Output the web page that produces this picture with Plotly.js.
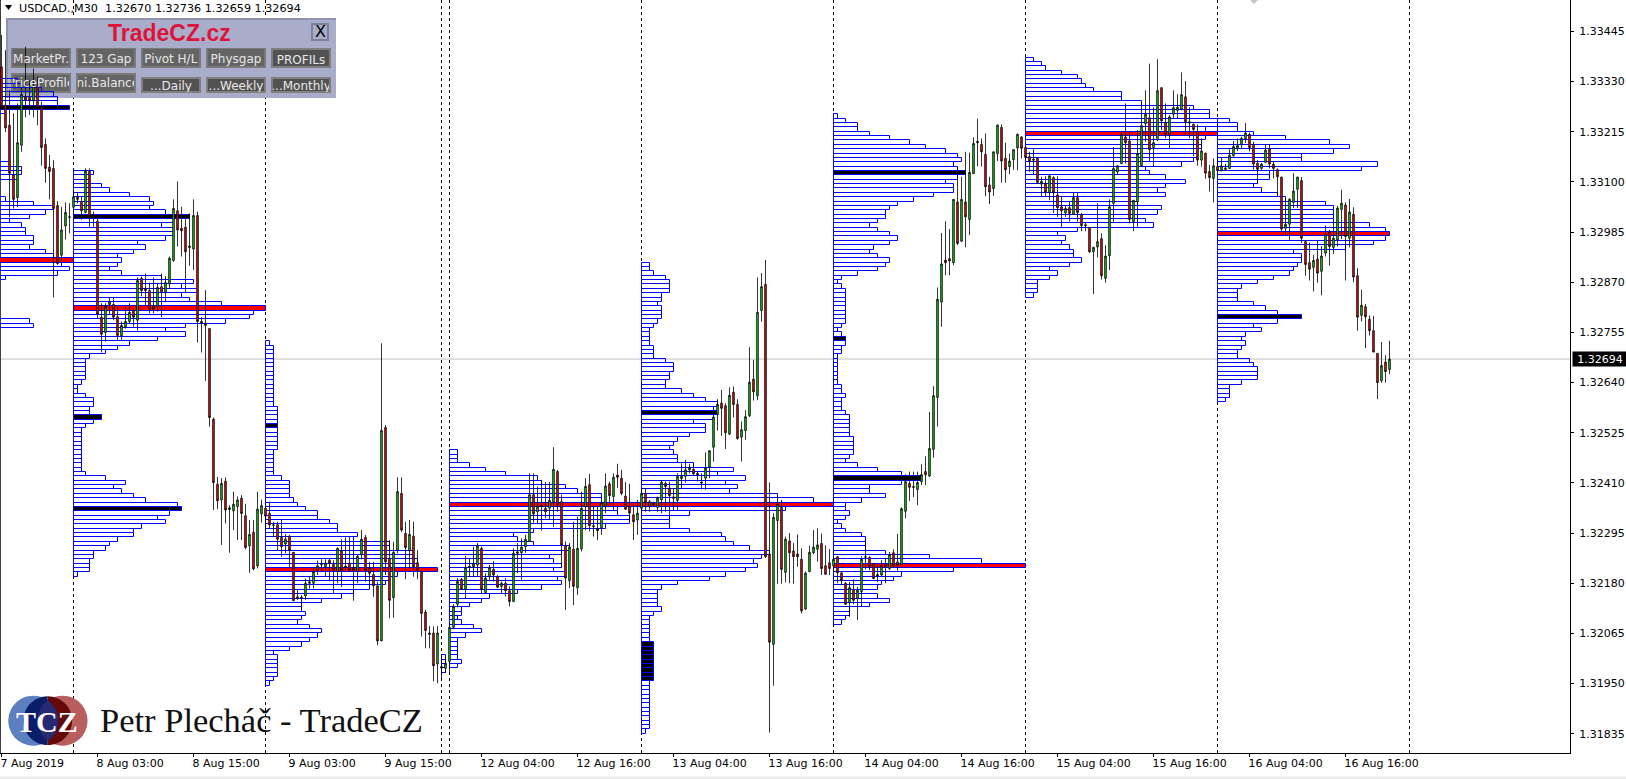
<!DOCTYPE html>
<html><head><meta charset="utf-8">
<script src="https://cdn.plot.ly/plotly-3.0.1.min.js"></script>
<style>html,body{margin:0;padding:0;background:#fff}#chart{width:1626px;height:779px}</style>
</head><body><div id="chart"></div>
<script>
// Prices are stored in 1/100000 units (1.32694 = 132694)
const priceUnit = 100000;
const rowStep = 10;

const open = [
133364,133276,133230,133116,133064,133184,133295,133293,133286,133320,
133271,133186,133134,133131,133046,132932,132999,133020,133042,133065,
133055,133030,133124,133020,133010,132790,132755,132819,132819,132791,
132747,132768,132780,132806,132783,132879,132856,132851,132816,132814,
132860,132848,132866,132920,133034,132994,132996,132953,132946,133023,
132780,132776,132764,132556,132407,132371,132414,132349,132346,132356,
132375,132335,132266,132297,132220,132339,132352,132340,132314,132314,
132285,132270,132288,132251,132149,132148,132151,132180,132180,132210,
132222,132218,132233,132223,132207,132255,132219,132226,132216,132207,
132246,132285,132214,132200,132174,132048,132537,132237,132147,132256,
132386,132294,132255,132288,132227,132207,132114,132066,132066,131995,
131989,131985,132001,132079,132132,132189,132166,132219,132218,132222,
132260,132159,132195,132212,132195,132173,132180,132163,132138,132252,
132250,132264,132276,132383,132344,132359,132352,132352,132367,132436,
132367,132266,132186,132258,132170,132259,132356,132406,132312,132306,
132306,132357,132408,132379,132428,132421,132380,132356,132337,132325,
132352,132386,132357,132363,132354,132371,132409,132398,132378,132370,
132420,132425,132440,132441,132432,132412,132421,132446,132492,132567,
132593,132587,132522,132618,132590,132515,132530,132564,132648,132610,
132805,132865,132247,132040,132324,132354,132205,132277,132254,132247,
132235,132121,132207,132250,132258,132271,132220,132227,132220,132241,
132204,132180,132136,132164,132145,132161,132241,132239,132225,132200,
132199,132223,132214,132250,132229,132223,132345,132409,132402,132395,
132413,132436,132426,132487,132606,132825,132921,132924,132915,133054,
132964,133054,133014,133119,133193,133186,133163,133093,133085,133165,
133225,133154,133135,133151,133178,133203,133179,133158,133152,133154,
133095,133096,133075,133110,133070,133043,133029,133041,133026,133064,
133025,133002,132996,132940,132951,132970,132879,132931,133051,133123,
133142,133203,133194,133009,133054,133137,133234,133247,133179,133196,
133316,133236,133209,133255,133264,133267,133295,133238,133232,133215,
133150,133166,133124,133108,133135,133126,133132,133131,133160,133176,
133185,133199,133209,133186,133143,133131,133145,133177,133141,133128,
133111,132994,133003,133053,133083,133103,132963,132915,132904,132923,
132895,132937,132985,132950,132967,133037,133047,132971,133026,132885,
132794,132814,132785,132759,132707,132644,132687,132670];

const high = [
133437,133402,133311,133257,133280,133326,133410,133334,133360,133341,
133284,133200,133162,133150,133056,133043,133053,133051,133078,133075,
133066,133131,133131,133032,133017,132822,132822,132835,132835,132814,
132780,132814,132822,132810,132881,132883,132890,132869,132881,132868,
132890,132884,132929,133060,133101,133043,133020,133028,133060,133032,
132790,132852,132764,132560,132424,132421,132423,132359,132390,132379,
132382,132362,132325,132325,132390,132372,132352,132367,132321,132321,
132325,132293,132291,132251,132165,132153,132191,132195,132214,132232,
132235,132235,132237,132233,132262,132281,132285,132287,132275,132245,
132302,132291,132229,132229,132184,132730,132543,132279,132275,132423,
132423,132321,132325,132321,132256,132210,132119,132082,132081,132082,
132016,132012,132082,132132,132192,132192,132243,132237,132264,132272,
132264,132203,132222,132231,132199,132184,132192,132173,132260,132272,
132283,132291,132432,132432,132402,132417,132412,132412,132492,132440,
132383,132276,132272,132321,132333,132390,132421,132431,132356,132356,
132367,132432,132413,132432,132454,132440,132412,132408,132360,132371,
132398,132398,132371,132367,132379,132417,132413,132413,132398,132432,
132455,132463,132454,132454,132436,132432,132480,132484,132562,132602,
132623,132593,132629,132631,132602,132551,132577,132721,132692,132881,
132891,132921,132411,132341,132379,132371,132287,132295,132272,132292,
132260,132207,132266,132302,132306,132294,132267,132258,132241,132242,
132206,132183,132183,132189,132172,132242,132280,132242,132225,132222,
132233,132237,132252,132258,132293,132354,132430,132436,132436,132436,
132453,132471,132573,132632,132858,132983,133010,132992,133060,133135,
133112,133169,133167,133202,133245,133200,133211,133112,133169,133232,
133232,133190,133165,133174,133211,133205,133179,133169,133177,133156,
133112,133113,133115,133113,133113,133067,133047,133054,133076,133074,
133029,133006,132996,132951,133051,132982,132955,133060,133180,133138,
133213,133280,133215,133058,133219,133284,133310,133371,133271,133381,
133316,133280,133253,133310,133301,133351,133331,133271,133234,133232,
133200,133167,133139,133154,133154,133157,133141,133177,133194,133200,
133204,133235,133213,133192,133150,133143,133187,133187,133147,133131,
133112,133066,133063,133120,133112,133111,132967,132961,132933,132965,
132953,133000,132990,133009,133045,133082,133053,133061,133042,132902,
132853,132820,132794,132793,132707,132733,132703,132736];

const low = [
133265,133214,133019,133039,133042,133169,133248,133253,133248,133230,
133137,133098,133060,132835,132910,132919,132968,132982,133028,133051,
133013,133028,132997,132997,132787,132709,132734,132795,132783,132738,
132738,132764,132776,132768,132759,132838,132818,132799,132799,132803,
132790,132825,132856,132917,132952,132929,132845,132908,132898,132732,
132709,132644,132539,132348,132350,132268,132317,132250,132302,132279,
132279,132258,132204,132210,132214,132319,132302,132306,132287,132256,
132241,132249,132218,132140,132142,132119,132142,132168,132168,132199,
132210,132195,132187,132157,132180,132172,132210,132207,132140,132180,
132235,132184,132176,132149,132038,132048,132199,132100,132101,132249,
132297,132189,132214,132195,132189,132058,132031,132031,131955,131951,
131959,131975,131975,132076,132125,132165,132146,132195,132194,132195,
132157,132157,132188,132184,132169,132157,132150,132127,132138,132203,
132188,132250,132276,132319,132318,132301,132329,132325,132310,132344,
132218,132119,132169,132130,132153,132253,132302,132299,132287,132279,
132291,132341,132360,132348,132399,132382,132348,132325,132279,132291,
132341,132344,132344,132356,132344,132341,132344,132337,132348,132348,
132398,132411,132432,132426,132413,132395,132394,132421,132459,132530,
132518,132488,132520,132560,132509,132459,132509,132561,132599,132600,
132780,132238,131838,131945,132179,132179,132182,132180,132179,132218,
132111,132119,132205,132247,132230,132199,132199,132199,132206,132180,
132176,132130,132103,132132,132096,132126,132212,132210,132189,132183,
132196,132180,132210,132218,132209,132222,132329,132369,132378,132359,
132405,132405,132424,132468,132539,132768,132886,132886,132909,132955,
132963,132950,132978,133118,133136,133135,133067,133049,133068,133148,
133098,133098,133118,133128,133127,133154,133150,133123,133118,133096,
133067,133067,133058,133029,133020,132995,133020,133009,133025,133009,
132987,132987,132937,132843,132927,132876,132869,132898,133009,133118,
133141,133142,133005,132987,132997,133135,133192,133148,133135,133194,
133219,133200,133178,133245,133245,133264,133207,133200,133159,133137,
133135,133107,133078,133053,133124,133124,133126,133130,133158,133171,
133175,133189,133170,133128,133095,133128,133143,133131,133108,133066,
132986,132979,132967,133040,133040,132960,132885,132874,132849,132869,
132840,132929,132908,132935,132952,132969,132874,132950,132870,132759,
132780,132719,132748,132710,132602,132640,132640,132659];

const close = [
133273,133224,133120,133060,133190,133301,133288,133286,133320,133271,
133179,133131,133124,133039,132913,132990,133030,133019,133066,133060,
133034,133125,133020,133019,132797,132751,132814,132825,132790,132748,
132771,132780,132801,132790,132874,132851,132851,132809,132809,132858,
132848,132869,132925,133039,132990,132988,132940,132950,133023,132780,
132777,132771,132560,132411,132369,132409,132348,132353,132361,132371,
132340,132262,132292,132213,132350,132358,132334,132314,132313,132281,
132264,132281,132256,132140,132145,132146,132180,132183,132207,132220,
132223,132226,132226,132210,132260,132210,132217,132210,132210,132242,
132281,132209,132203,132174,132048,132530,132229,132141,132251,132390,
132302,132262,132292,132218,132209,132111,132072,132063,131991,132066,
131986,131997,132079,132127,132184,132166,132216,132217,132224,132266,
132166,132192,132216,132199,132171,132180,132163,132138,132249,132249,
132263,132281,132383,132339,132357,132356,132344,132370,132441,132360,
132268,132192,132263,132173,132260,132352,132402,132312,132310,132301,
132365,132403,132381,132423,132423,132386,132350,132341,132321,132341,
132386,132365,132367,132360,132375,132412,132402,132381,132375,132425,
132425,132440,132445,132431,132429,132410,132444,132484,132561,132590,
132581,132525,132611,132590,132512,132532,132562,132641,132619,132801,
132860,132241,132045,132331,132361,132212,132281,132250,132241,132241,
132117,132203,132251,132263,132268,132214,132201,132214,132235,132204,
132186,132132,132170,132141,132164,132235,132240,132218,132191,132197,
132220,132220,132246,132220,132222,132351,132413,132400,132400,132411,
132429,132429,132489,132610,132831,132912,132915,132919,133060,132959,
133060,133020,133122,133188,133190,133169,133089,133077,133169,133230,
133148,133128,133148,133174,133209,133177,133156,133146,133150,133099,
133101,133077,133114,133075,133041,133034,133039,133028,133064,133030,
133000,133000,132940,132950,132963,132885,132930,133043,133131,133137,
133209,133190,133014,133058,133165,133229,133255,133174,133190,133309,
133240,133209,133249,133270,133271,133300,133238,133235,133220,133150,
133171,133120,133110,133137,133126,133137,133129,133161,133181,133183,
133200,133212,133179,133141,133129,133141,133173,133141,133131,133112,
132992,133003,133060,133079,133111,132971,132911,132900,132920,132891,
132930,132980,132952,132971,133040,133051,132975,133031,132882,132790,
132817,132791,132759,132710,132640,132679,132665,132694];

// Session profiles: bar-count width per price row, top row first, one row every 10 units
const profile0 = [34,35,40,43,44,44,47,31,0,0,0,0,0,0,0,0,0,0,0,32,35,35,34,0,0,0,0,31,38,43,41,37,32,35,36,36,38,38,37,41,43,48,45,47,44,31,0,0,0,0,0,0,0,0,0,37,38];
const profile1 = [5,3,4,7,9,14,19,20,19,23,29,25,22,25,25,23,16,18,15,11,12,11,9,12,22,30,27,31,27,29,37,48,45,44,38,28,23,28,21,14,11,8,4,3,3,3,3,3,2,1,1,3,5,5,4,4,7,5,3,2,2,2,2,2,2,2,2,2,2,3,8,13,10,12,15,18,26,27,24,21,23,17,15,15,11,9,8,5,5,4,4,4,1];
const profile2 = [1,2,2,2,2,2,2,2,2,2,2,2,2,2,2,3,3,3,3,3,3,3,3,3,3,2,2,2,2,2,2,4,6,6,6,6,7,8,10,13,13,16,18,18,23,22,31,31,37,37,38,38,43,33,31,30,26,22,19,14,9,9,10,9,8,11,14,13,11,9,6,2,3,3,3,3,3,2,1];
const profileSun = [1,1,1,1];
const profile3 = [2,2,2,5,9,14,22,23,29,32,38,38,48,42,42,45,45,39,21,16,17,21,30,28,25,26,28,26,29,27,28,23,17,10,8,5,3,3,2,3,6,8,4,2,2,2,2,2,3,2];
const profile4 = [2,2,3,6,7,7,7,5,5,4,5,5,5,4,3,2,2,2,2,3,3,3,6,8,8,7,7,6,6,10,13,16,19,18,19,18,13,16,16,12,9,8,7,8,9,9,13,23,19,26,21,24,22,34,43,48,36,12,7,7,7,12,20,21,23,27,32,30,28,29,26,21,17,9,5,4,4,4,4,5,3,2,2,2,2,2,2,3,3,3,3,3,3,3,3,3,2,2,2,2,2,2,2,2,2,2,2,1];
const profile5 = [1,3,6,6,9,14,19,23,28,31,32,30,31,33,31,28,30,30,25,20,16,14,13,13,11,9,11,14,16,14,10,9,11,14,13,11,6,2,1,2,3,3,3,3,3,3,3,3,2,1,2,3,3,2,2,1,1,1,1,1,1,1,2,2,3,2,2,2,3,4,4,4,4,4,5,5,5,5,4,3,6,11,17,22,17,9,9,13,7,3,3,4,3,1,2,3,7,8,8,8,13,24,37,48,30,17,15,12,11,7,11,14,9,4,4,3,2];
const profile6 = [2,4,5,9,13,14,15,17,24,24,29,42,46,46,48,48,45,48,45,44,44,43,43,42,39,30,31,35,40,35,33,35,28,28,34,33,28,30,32,13,8,10,9,11,12,12,14,11,6,8,6,3,3,3,2];
const profile7 = [3,5,5,9,17,28,33,29,21,21,40,36,13,13,10,9,11,15,17,27,29,29,29,29,38,42,43,42,39,32,19,21,21,20,19,18,14,10,6,5,5,5,9,12,15,21,15,9,11,7,6,7,6,5,5,8,9,10,10,10,6,3,3,3,2];

const profileCounts = [profile0,profile1,profile2,profileSun,profile3,profile4,profile5,profile6,profile7];
const profileStart  = [-30,18,66,110,112,160,208,256,304];
const profileTop    = [133330,133120,132730,132010,132480,132910,133250,133380,133240];
const pocPrices     = [132920,132810,132210,null,132360,132360,132220,133210,132980];
const darkPrices    = [[133270],[133020,132560,132350],[132540],[],[],
  [132570,132040,132030,132020,132010,132000,131990,131980,131970,131960],
  [133120,132740,132420],[],[132790]];

const sessionBreaks = [18,66,110,112,160,208,256,304,352];
const timeTickBars = [0,24,48,72,96,120,144,168,192,216,240,264,288,312,336];
const timeTickText = ['7 Aug 2019','8 Aug 03:00','8 Aug 15:00','9 Aug 03:00','9 Aug 15:00','12 Aug 04:00','12 Aug 16:00','13 Aug 04:00','13 Aug 16:00','14 Aug 04:00','14 Aug 16:00','15 Aug 04:00','15 Aug 16:00','16 Aug 04:00','16 Aug 16:00'];
const priceTicks = [1.33445,1.33330,1.33215,1.33100,1.32985,1.32870,1.32755,1.32640,1.32525,1.32410,1.32295,1.32180,1.32065,1.31950,1.31835];
const lastPrice = 1.32694;
const buttonRow1 = ['MarketPr.','123 Gap','Pivot H/L','Physgap','PROFILs'];
const buttonRow2 = ['PriceProfile','Ini.Balance','...Daily','...Weekly','...Monthly'];

// ---- build traces
const barIndex = open.map((_,i)=>i);
const toPrice = a => a.map(v=>v/priceUnit);

const rowY=[],rowBase=[],rowW=[],rowFill=[];
profileCounts.forEach((counts,k)=>{
  counts.forEach((c,j)=>{
    if(!c) return;
    const p = profileTop[k]-rowStep*j;
    rowY.push(p/priceUnit); rowBase.push(profileStart[k]); rowW.push(c);
    rowFill.push(p===pocPrices[k] ? '#ff0000' : darkPrices[k].includes(p) ? '#000000' : 'rgba(255,255,255,0)');
  });
});

const profileTrace = {type:'bar',orientation:'h',y:rowY,x:rowW,base:rowBase,width:rowStep/priceUnit,
  marker:{color:rowFill,line:{color:'#0000ff',width:1}},hoverinfo:'skip',showlegend:false};

const candleTrace = {type:'candlestick',x:barIndex,open:toPrice(open),high:toPrice(high),low:toPrice(low),close:toPrice(close),
  increasing:{line:{color:'#000000',width:0.8},fillcolor:'#18d018'},
  decreasing:{line:{color:'#000000',width:0.8},fillcolor:'#f01010'},
  whiskerwidth:0,hoverinfo:'skip',showlegend:false};

// ---- layout helpers (page pixels to paper fractions)
const W=1570,H=753;
const px=x=>x/W, py=y=>1-y/H;
const paperRect=(x0,y0,x1,y1,fill,line)=>({type:'rect',xref:'paper',yref:'paper',x0:px(x0),x1:px(x1),y0:py(y0),y1:py(y1),
  fillcolor:fill,line:line?{color:line,width:1}:{width:0},layer:'below'});
const poly=(pts,fill)=>({type:'path',xref:'paper',yref:'paper',layer:'below',fillcolor:fill,line:{width:0},
  path:'M'+pts.map(p=>px(p[0])+','+py(p[1])).join('L')+'Z'});
const arc=(cx,cy,r,a0,a1,n=30)=>{const o=[];for(let i=0;i<=n;i++){const a=a0+(a1-a0)*i/n;o.push([cx+r*Math.cos(a),cy+r*Math.sin(a)]);}return o;};
const note=(text,x,y,o={})=>Object.assign({xref:'paper',yref:'paper',x:px(x),y:py(y),text,showarrow:false,xanchor:'left',yanchor:'middle',
  font:Object.assign({family:'DejaVu Sans',size:11,color:'#000'},o.font||{})},o.extra||{});

const shapes=[];
sessionBreaks.forEach(b=>shapes.push({type:'line',xref:'x',yref:'paper',x0:b,x1:b,y0:0,y1:1,line:{color:'#000',width:1,dash:'3px,3px'},layer:'below'}));
shapes.push({type:'line',xref:'paper',yref:'y',x0:0,x1:1,y0:lastPrice,y1:lastPrice,line:{color:'#c0c0c0',width:1},layer:'below'});
shapes.push({type:'line',xref:'paper',yref:'paper',x0:0,x1:0,y0:0,y1:1,line:{color:'#000',width:1.5},layer:'below'});
shapes.push(poly([[1250,0],[1258,0],[1254,4]],'#c4c4c4'));
shapes.push(poly([[5,5],[12,5],[8.5,10]],'#000'));
shapes.push(paperRect(0,776.5,1626,779,'#ececec'));

// panel
shapes.push(paperRect(6,18,336,98,'#a9adc9'));
shapes.push(paperRect(6,18,336,20,'#8f93ad'));
shapes.push(paperRect(6,18,8,98,'#8f93ad'));
shapes.push(paperRect(311,23,329,41,'#7d8098'));
shapes.push(paperRect(313,25,327,39,'#a9adc9'));
const btnX=[11,76,141,206,271];
const annotations=[];
btnX.forEach((x,i)=>{
  const pressed1=i===4;
  shapes.push(paperRect(x,48,x+60,68,pressed1?'#7f7f7f':'#7a7a7a'));
  shapes.push(paperRect(x+2,pressed1?50:49,x+58,66,pressed1?'#525252':'#646464'));
  annotations.push(note(buttonRow1[i],x+30,pressed1?59.5:58.5,{font:{color:'#e8e8e8',size:12},extra:{xanchor:'center',width:56,height:18}}));
  const pressed2=i>=2;
  const top=pressed2?77:73;
  shapes.push(paperRect(x,top,x+60,93,pressed2?'#7f7f7f':'#7a7a7a'));
  shapes.push(paperRect(x+2,top+2,x+58,91,pressed2?'#525252':'#646464'));
  annotations.push(note(buttonRow2[i],x+30,pressed2?86:83,{font:{color:'#e8e8e8',size:12},extra:{xanchor:'center',width:56,height:pressed2?12:18}}));
});
annotations.push(note('<b>TradeCZ.cz</b>',169,33,{font:{family:'Liberation Sans',size:23,color:'#dc143c'},extra:{xanchor:'center'}}));
annotations.push(note('X',320,32,{font:{size:16},extra:{xanchor:'center'}}));

// logo
const cy=720.7;
const circle=(cx,r,fill)=>poly(arc(cx,cy,r,0,2*Math.PI,48),fill);
shapes.push(circle(33.3,25,'#5c80bf'));
shapes.push(circle(62.5,25,'#b85e5e'));
shapes.push(poly(arc(47.7,cy,24.4,Math.PI/2,3*Math.PI/2),'#0a1d6b'));
shapes.push(poly(arc(47.7,cy,24.4,-Math.PI/2,Math.PI/2),'#650808'));
const lensA=Math.acos(14.6/25);
shapes.push(poly(arc(33.3,cy,25,-lensA,lensA,20).concat(arc(62.5,cy,25,Math.PI-lensA,Math.PI+lensA,20)),'#262a72'));
annotations.push(note('<b>TCZ</b>',47,721,{font:{family:'Liberation Serif',size:30,color:'#fff'},extra:{xanchor:'center'}}));
annotations.push(note('Petr Plecháč - TradeCZ',98,720,{font:{family:'Liberation Serif',size:34.5,color:'#111'}}));

annotations.push(note('USDCAD.,M30  1.32670 1.32736 1.32659 1.32694',17,8.5,{font:{size:11.2,color:'#000'}}));

// last price tag
annotations.push({xref:'paper',yref:'y',x:px(1572),y:lastPrice,text:'1.32694',showarrow:false,xanchor:'left',yanchor:'middle',
  bgcolor:'#000',font:{family:'DejaVu Sans',size:11,color:'#fff'},borderpad:1,width:52,height:12,align:'center'});

const layout={
  width:1626,height:779,margin:{l:0,r:56,t:0,b:26,pad:0},
  paper_bgcolor:'#fff',plot_bgcolor:'#fff',showlegend:false,
  boxgap:0.4,bargap:0,barmode:'overlay',
  xaxis:{type:'linear',range:[-0.375,392.125],rangeslider:{visible:false},tickmode:'array',tickvals:timeTickBars,ticktext:timeTickText,
    showgrid:false,zeroline:false,showline:true,linecolor:'#000',linewidth:1,ticks:'outside',ticklen:3,tickcolor:'#000',
    ticklabelposition:'outside right',ticklabelshift:-2,tickfont:{family:'DejaVu Sans',size:11,color:'#000'},tickangle:0,fixedrange:true},
  yaxis:{type:'linear',side:'right',range:[1.31791,1.33517],tickmode:'array',tickvals:priceTicks,ticktext:priceTicks.map(v=>v.toFixed(5)),
    showgrid:false,zeroline:false,showline:true,linecolor:'#000',linewidth:1,ticks:'outside',ticklen:3,tickcolor:'#000',ticklabelstandoff:3,
    tickfont:{family:'DejaVu Sans',size:11,color:'#000'},fixedrange:true,automargin:false},
  shapes,annotations
};
Plotly.newPlot('chart',[profileTrace,candleTrace],layout,{displayModeBar:false});
</script></body></html>
